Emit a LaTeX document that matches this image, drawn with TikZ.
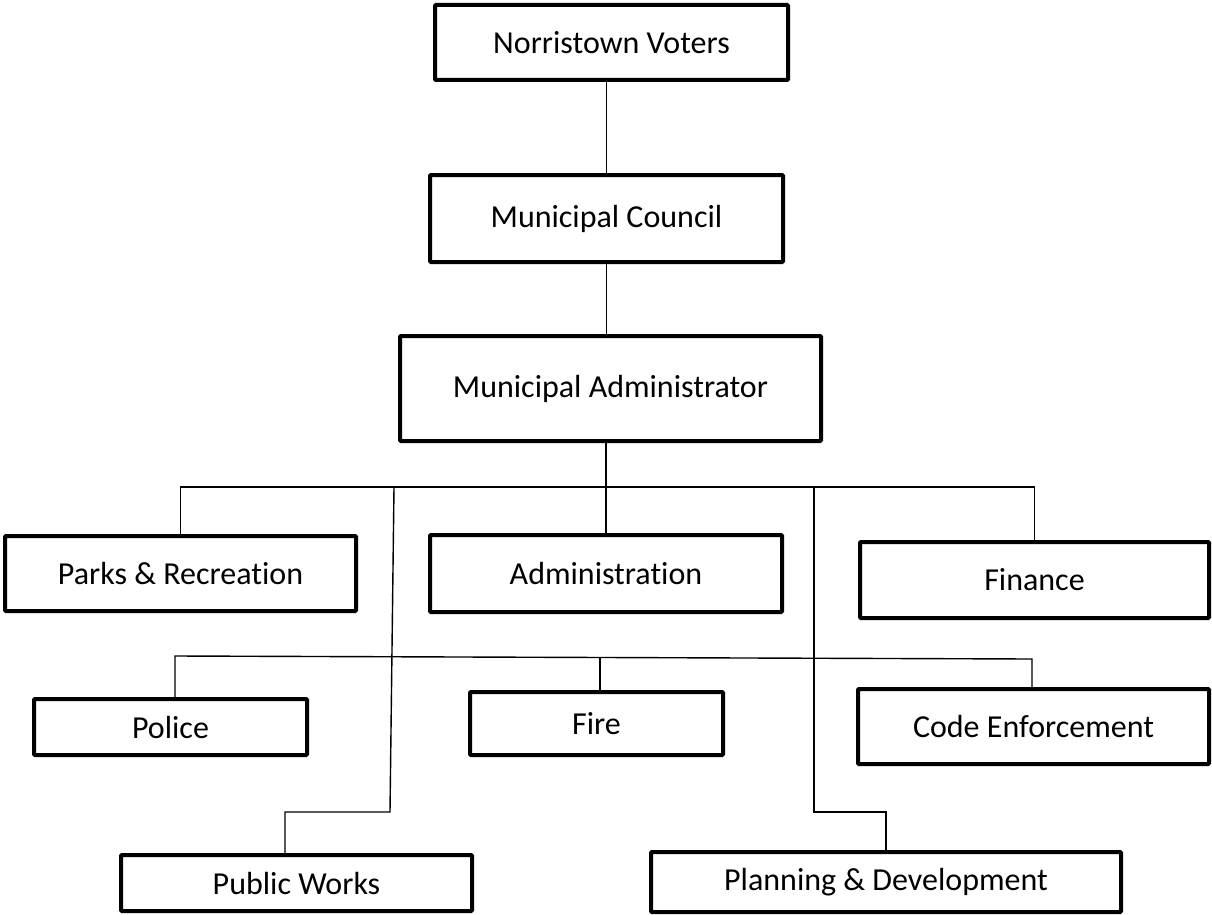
\documentclass[tikz,border=0pt]{standalone}
\usepackage{fontspec}
\setmainfont[Ligatures=NoCommon]{Carlito}
\tikzset{dept/.style={draw,line width=4pt,rounded corners=1pt,inner sep=0pt,font=\fontsize{32}{38}\selectfont},
         link/.style={line width=1.4pt},
        }

\begin{document}
\begin{tikzpicture}[x=1pt,y=-1pt]
        \useasboundingbox (0,0) rectangle (1212,915);
        % top of the chart
        \node[dept, minimum width=353, minimum height=75](voters)at(611.5,42.5){Norristown Voters};
        \node[dept, minimum width=353, minimum height=87](council)at(606.5,218.5){Municipal Council};
        \node[dept, minimum width=421, minimum height=105](admin)at(610.5,388.5){Municipal Administrator};
        % departments
        \node[dept, minimum width=351, minimum height=75](parks)at(180.5,573.5){Parks \& Recreation};
        \node[dept, minimum width=352, minimum height=77](administration)at(606,573.5){Administration};
        \node[dept, minimum width=349, minimum height=76](finance)at(1034.5,580){Finance};
        \node[dept, minimum width=273, minimum height=56](police)at(170.5,727){Police};
        \node[dept, minimum width=253, minimum height=63](fire)at(596.5,723.5){Fire};
        \node[dept, minimum width=351, minimum height=75](code)at(1033.5,726.5){Code Enforcement};
        \node[dept, minimum width=351, minimum height=56](works)at(296.5,883){Public Works};
        \node[dept, minimum width=470, minimum height=60](planning)at(886,882){Planning \& Development};

        \coordinate(bus1)at(0,487);
        \coordinate(bus2l)at(175,656);
        \coordinate(bus2r)at(1032,659);
        \coordinate(firetop)at(600,658);
        \coordinate(pwtop)at(394,487);
        \coordinate(pwbend)at(390,812);
        \coordinate(pwdrop)at(285,812);
        \coordinate(pdtop)at(814,487);
        \coordinate(pdbend)at(814,812);

        \draw[link](voters.south -| council.north)--(council.north);
        \draw[link](council.south)--(council.south |- admin.north);
        \draw[link](admin.south -| administration.north)--(administration.north);
        \draw[link](parks.north)--(parks.north |- bus1)--(finance.north |- bus1)--(finance.north);
        \draw[link](police.north -| bus2l)--(bus2l)--(bus2r)--(code.north -| bus2r);
        \draw[link](firetop)--(firetop |- fire.north);
        \draw[link](pwtop)--(pwbend)--(pwdrop)--(pwdrop |- works.north);
        \draw[link](pdtop)--(pdbend)-|(planning.north);
    \end{tikzpicture}
\end{document}
